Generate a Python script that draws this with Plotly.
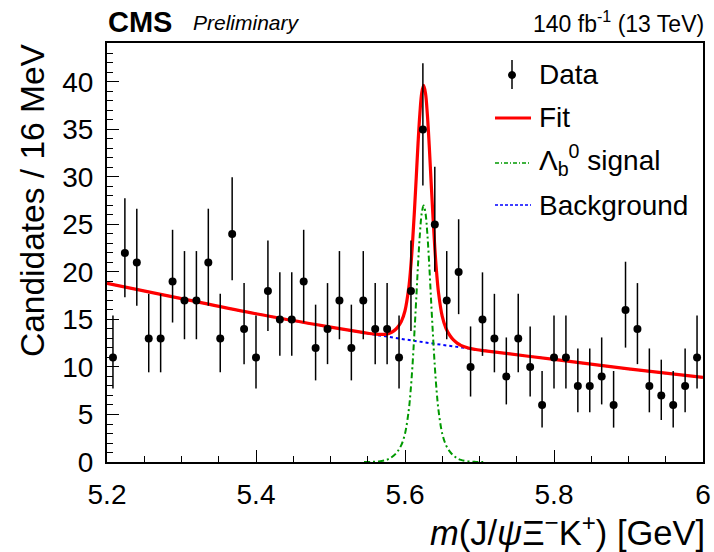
import numpy as np
import plotly.graph_objects as go

# binning: 50 bins of 16 MeV between 5.2 and 6.0 GeV
edges = np.linspace(5.2, 6.0, 51)
centers = 0.5 * (edges[:-1] + edges[1:])

counts = [11, 22, 21, 13, 13, 19, 17, 17, 21, 13,
          24, 14, 11, 18, 15, 15, 19, 12, 14, 17,
          12, 17, 14, 14, 11, 18, 35, 25, 17, 20,
          10, 15, 13, 9, 13, 10, 6, 11, 11, 8,
          8, 9, 6, 16, 14, 8, 7, 6, 8, 11]

# Poisson (Garwood) 68% intervals for the counts that appear
pois_n = [6, 7, 8, 9, 10, 11, 12, 13, 14, 15, 16, 17, 18, 19, 20, 21, 22, 24, 25, 35]
pois_lo = [2.38, 2.58, 2.77, 2.94, 3.11, 3.27, 3.41, 3.56, 3.70, 3.83,
           3.96, 4.08, 4.20, 4.32, 4.44, 4.55, 4.66, 4.87, 4.97, 5.90]
pois_hi = [3.58, 3.77, 3.95, 4.11, 4.27, 4.42, 4.56, 4.70, 4.83, 4.96,
           5.08, 5.20, 5.32, 5.44, 5.55, 5.66, 5.76, 5.97, 6.07, 6.97]
lo_map = dict(zip(pois_n, pois_lo))
hi_map = dict(zip(pois_n, pois_hi))
err_lo = [lo_map[c] for c in counts]
err_hi = [hi_map[c] for c in counts]

# background component
bkg_x = [5.2, 5.3, 5.4, 5.5, 5.6, 5.7, 5.8, 5.9, 6.0]
bkg_y = [18.8, 17.2, 15.6, 14.2, 12.9, 11.8, 10.8, 9.8, 8.9]

# signal component (green dash-dot)
sig_x = [5.545, 5.555, 5.565, 5.575, 5.58, 5.585, 5.59, 5.595, 5.6, 5.605,
         5.6075, 5.61, 5.6125, 5.615, 5.6175, 5.62, 5.6225, 5.625, 5.6275, 5.63,
         5.6325, 5.635, 5.6375, 5.64, 5.6425, 5.645, 5.65, 5.655, 5.66, 5.665,
         5.67, 5.675, 5.685, 5.695, 5.705]
sig_y = [0.0, 0.01, 0.06, 0.22, 0.40, 0.68, 1.11, 1.77, 2.98, 5.43,
         7.44, 10.1, 13.4, 17.05, 20.8, 24.0, 26.2, 27.0, 26.2, 24.0,
         20.8, 17.05, 13.4, 10.1, 7.44, 5.43, 2.98, 1.77, 1.11, 0.68,
         0.40, 0.22, 0.06, 0.01, 0.0]

# total fit (red)
fit_x = [5.2, 5.3, 5.4, 5.5, 5.545, 5.555, 5.565, 5.575, 5.58, 5.585,
         5.59, 5.595, 5.6, 5.605, 5.6075, 5.61, 5.6125, 5.615, 5.6175, 5.62,
         5.6225, 5.625, 5.6275, 5.63, 5.6325, 5.635, 5.6375, 5.64, 5.6425, 5.645,
         5.65, 5.655, 5.66, 5.665, 5.67, 5.675, 5.685, 5.695, 5.705, 5.8,
         5.9, 6.0]
fit_y = [18.8, 17.2, 15.6, 14.2, 13.62, 13.50, 13.43, 13.46, 13.58, 13.80,
         14.17, 14.77, 15.92, 18.31, 20.29, 22.92, 26.19, 29.81, 33.53, 36.70,
         38.87, 39.64, 38.81, 36.58, 33.35, 29.57, 25.89, 22.56, 19.87, 17.83,
         15.32, 14.06, 13.34, 12.85, 12.51, 12.28, 12.00, 11.84, 11.72, 10.8,
         9.8, 8.9]

FONT = "Liberation Sans, Arial, Helvetica, sans-serif"
W, H = 714, 552
L, R, T, B = 107, 11, 43, 90


def px(x):
    return (x - L) / (W - L - R)


def py(y):
    return (H - B - y) / (H - T - B)


fig = go.Figure()

fig.add_trace(go.Scatter(x=bkg_x, y=bkg_y, mode="lines", line_shape="spline",
                         line=dict(color="#0000ff", width=2, dash="3px,3px")))
fig.add_trace(go.Scatter(x=sig_x, y=sig_y, mode="lines", line_shape="spline",
                         line=dict(color="#009900", width=2, dash="6px,3px,2px,3px")))
fig.add_trace(go.Scatter(x=fit_x, y=fit_y, mode="lines", line_shape="spline",
                         line=dict(color="#ff0000", width=3.2)))
fig.add_trace(go.Scatter(
    x=centers, y=counts, mode="markers",
    marker=dict(color="black", size=8),
    error_y=dict(type="data", symmetric=False, array=err_hi, arrayminus=err_lo,
                 width=0, thickness=1.5, color="black"),
))

# hand-made legend, ROOT style
shapes = [
    dict(type="line", xref="paper", yref="paper", x0=px(512), x1=px(512),
         y0=py(60), y1=py(89), line=dict(color="black", width=1.5)),
    dict(type="circle", xref="paper", yref="paper", x0=px(508.5), x1=px(515.5),
         y0=py(71.5), y1=py(78.5), fillcolor="black", line=dict(color="black", width=1)),
    dict(type="line", xref="paper", yref="paper", x0=px(495), x1=px(531),
         y0=py(118), y1=py(118), line=dict(color="#ff0000", width=3)),
    dict(type="line", xref="paper", yref="paper", x0=px(495), x1=px(531),
         y0=py(163), y1=py(163), line=dict(color="#009900", width=1.5, dash="4px,2px,1px,2px")),
    dict(type="line", xref="paper", yref="paper", x0=px(495), x1=px(531),
         y0=py(205), y1=py(205), line=dict(color="#0000ff", width=1.5, dash="3px,2px")),
]

legend_text = [("Data", 74), ("Fit", 117), ("Λ<sub>b</sub><sup>0</sup> signal", 160), ("Background", 205)]
annotations = []
for txt, yy in legend_text:
    annotations.append(dict(text=txt, xref="paper", yref="paper", x=px(537), y=py(yy),
                            xanchor="left", yanchor="middle", showarrow=False,
                            font=dict(family=FONT, size=28, color="black")))

annotations += [
    dict(text="<b>CMS</b>", xref="paper", yref="paper", x=px(106), y=py(22),
         xanchor="left", yanchor="middle", showarrow=False,
         font=dict(family=FONT, size=29, color="black")),
    dict(text="<i>Preliminary</i>", xref="paper", yref="paper", x=px(191), y=py(23),
         xanchor="left", yanchor="middle", showarrow=False,
         font=dict(family=FONT, size=21, color="black")),
    dict(text="140 fb<sup>-1</sup> (13 TeV)", xref="paper", yref="paper", x=px(706), y=py(22),
         xanchor="right", yanchor="middle", showarrow=False,
         font=dict(family=FONT, size=23, color="black")),
    dict(text="Candidates / 16 MeV", xref="paper", yref="paper", x=px(33), y=py(41),
         xanchor="center", yanchor="top", textangle=-90, showarrow=False,
         font=dict(family=FONT, size=33.5, color="black")),
    dict(text="<i>m</i>(J/<i>ψ</i>Ξ<sup>−</sup>K<sup>+</sup>) [GeV]", xref="paper", yref="paper",
         x=px(707), y=py(530), xanchor="right", yanchor="middle", showarrow=False,
         font=dict(family=FONT, size=34.5, color="black")),
]

axis_common = dict(
    showgrid=False, zeroline=False, showline=True, linecolor="black", linewidth=2,
    mirror=True, ticks="inside", ticklen=12, tickwidth=1, tickcolor="black",
    tickfont=dict(family=FONT, size=28, color="black"), automargin=False,
)

fig.update_layout(
    width=W, height=H,
    autosize=False,
    margin=dict(l=L, r=R, t=T, b=B, autoexpand=False),
    paper_bgcolor="white", plot_bgcolor="white",
    showlegend=False,
    shapes=shapes,
    annotations=annotations,
    xaxis=dict(range=[5.2, 6.0], tick0=5.2, dtick=0.2, ticklabelstandoff=6,
               minor=dict(dtick=0.05, ticks="inside", ticklen=6, tickcolor="black"),
               **axis_common),
    yaxis=dict(range=[0, 44.1], tick0=0, dtick=5, ticklabelstandoff=6,
               minor=dict(dtick=1, ticks="inside", ticklen=6, tickcolor="black"),
               **axis_common),
)

fig.write_html("out.html",
               config={"responsive": False, "displayModeBar": False},
               post_script="document.body.style.margin='0';document.body.style.overflow='hidden';")
